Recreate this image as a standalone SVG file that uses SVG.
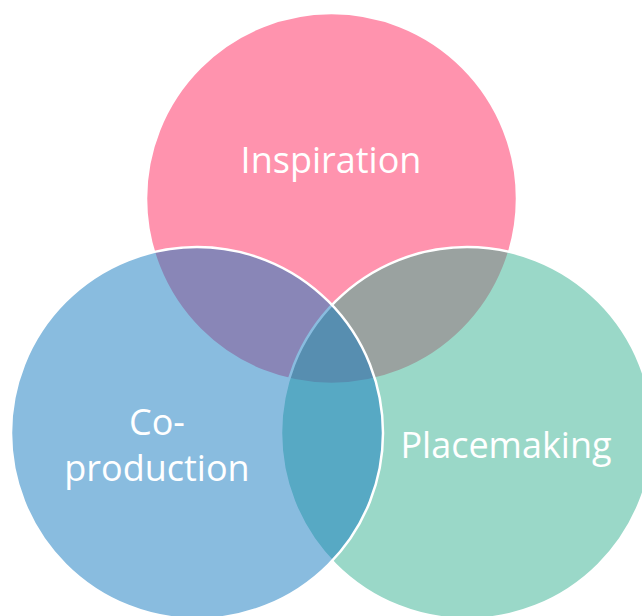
<svg xmlns="http://www.w3.org/2000/svg" width="642" height="616" viewBox="0 0 642 616">
  <style>
    .c { stroke: #FFFFFF; stroke-width: 2.5; }
    .lbl { font-family: "Open Sans", "Noto Sans", "Liberation Sans", sans-serif; font-size: 36px; fill: #FFFFFF; text-anchor: middle; }
  </style>
  <rect x="0" y="0" width="642" height="616" fill="#FFFFFF"/>
  <g id="inspiration">
    <circle class="c" cx="331.5" cy="198.5" r="185.5" fill="#FF93AE"/>
    <text class="lbl" x="331" y="173">Inspiration</text>
  </g>
  <g id="placemaking">
    <circle class="c" cx="467" cy="433" r="186" fill="#35B191" fill-opacity="0.5"/>
    <text class="lbl" x="506" y="458">Placemaking</text>
  </g>
  <g id="coproduction">
    <circle class="c" cx="197" cy="433" r="186" fill="#1379BF" fill-opacity="0.5"/>
    <text class="lbl" x="157" y="435">Co-</text>
    <text class="lbl" x="157" y="481">production</text>
  </g>
</svg>
